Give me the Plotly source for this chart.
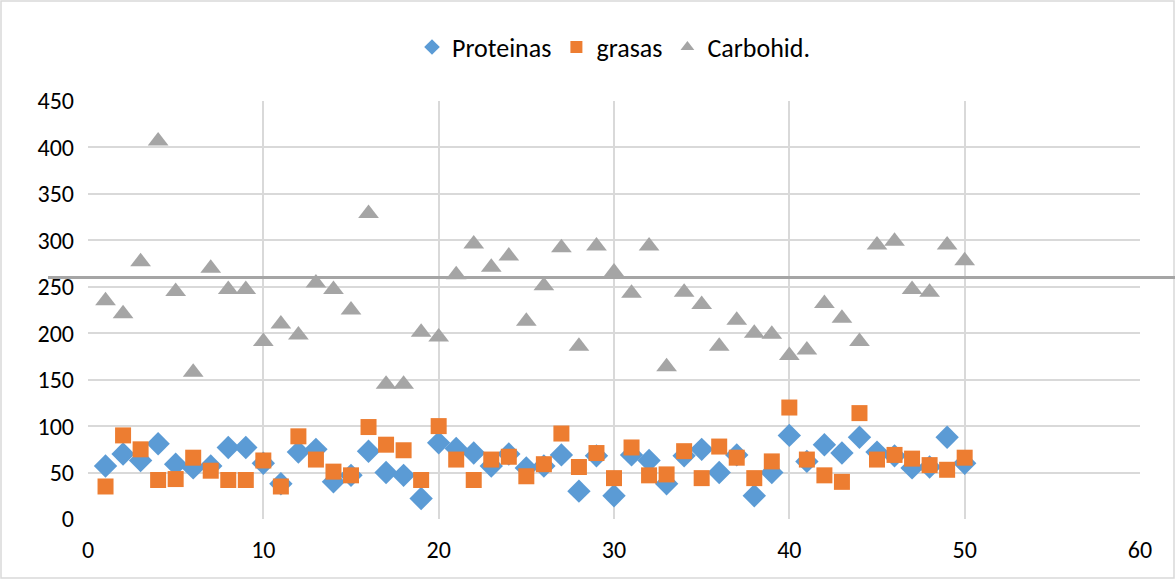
import plotly.graph_objects as go

x_vals = list(range(1, 51))
proteinas = [57, 70, 63, 81, 59, 55, 57, 77, 77, 60,
             38, 72, 75, 40, 47, 73, 50, 47, 22, 82,
             76, 71, 57, 70, 55, 57, 69, 30, 68, 25,
             69, 63, 38, 68, 75, 50, 69, 25, 50, 90,
             62, 80, 71, 88, 72, 68, 55, 56, 88, 60]
grasas = [35, 90, 75, 42, 43, 66, 52, 42, 42, 63,
          35, 89, 64, 51, 47, 99, 80, 74, 42, 100,
          64, 42, 64, 67, 46, 59, 92, 56, 71, 44,
          77, 47, 48, 73, 44, 78, 66, 44, 62, 120,
          64, 47, 40, 114, 64, 69, 65, 58, 53, 66]
carbohid = [235, 221, 277, 407, 245, 158, 270, 247, 247, 191,
            210, 198, 254, 247, 225, 329, 145, 145, 201, 196,
            263, 296, 271, 283, 213, 251, 292, 186, 294, 266,
            243, 294, 164, 244, 231, 186, 214, 200, 199, 176,
            182, 232, 216, 191, 295, 299, 247, 244, 295, 278]
ref_line = 260

font_family = "Carlito, Calibri, Lato, sans-serif"

fig = go.Figure()
fig.add_trace(go.Scatter(x=x_vals, y=proteinas, mode="markers", name="Proteinas",
                         marker=dict(symbol="diamond", size=18, color="#5B9BD5")))
fig.add_trace(go.Scatter(x=x_vals, y=grasas, mode="markers", name="grasas",
                         marker=dict(symbol="square", size=16, color="#ED7D31")))
fig.add_trace(go.Scatter(x=x_vals, y=carbohid, mode="markers", name="Carbohid.",
                         marker=dict(symbol="triangle-up", size=18, color="#A5A5A5")))

fig.add_shape(type="line", xref="paper", yref="y", x0=-0.038, x1=1.04,
              y0=ref_line, y1=ref_line, line=dict(color="#A5A5A5", width=3), layer="above")
fig.add_shape(type="rect", xref="paper", yref="paper", x0=-87/1052, x1=1 + 34/1052,
              y0=-59/418, y1=1 + 100/418, line=dict(color="#D9D9D9", width=1.5), layer="below")

fig.update_layout(
    width=1175, height=579,
    paper_bgcolor="white", plot_bgcolor="white",
    margin=dict(l=88, r=35, t=101, b=60, autoexpand=False),
    font=dict(family=font_family, size=24, color="#000000"),
    legend=dict(orientation="h", x=0.5, xanchor="center", y=1.129, yanchor="middle",
                font=dict(size=26), itemsizing="constant", itemwidth=30),
    xaxis=dict(range=[0, 60], dtick=10, showgrid=True, gridcolor="#D9D9D9", gridwidth=1.5,
               zeroline=False, showline=False, ticks="", tickfont=dict(size=24),
               ticklabelstandoff=14),
    yaxis=dict(range=[0, 450], dtick=50, showgrid=True, gridcolor="#D9D9D9", gridwidth=1.5,
               zeroline=False, showline=False, ticks="", tickfont=dict(size=24),
               ticklabelstandoff=13),
    showlegend=True,
)

fig.write_html("out.html")
